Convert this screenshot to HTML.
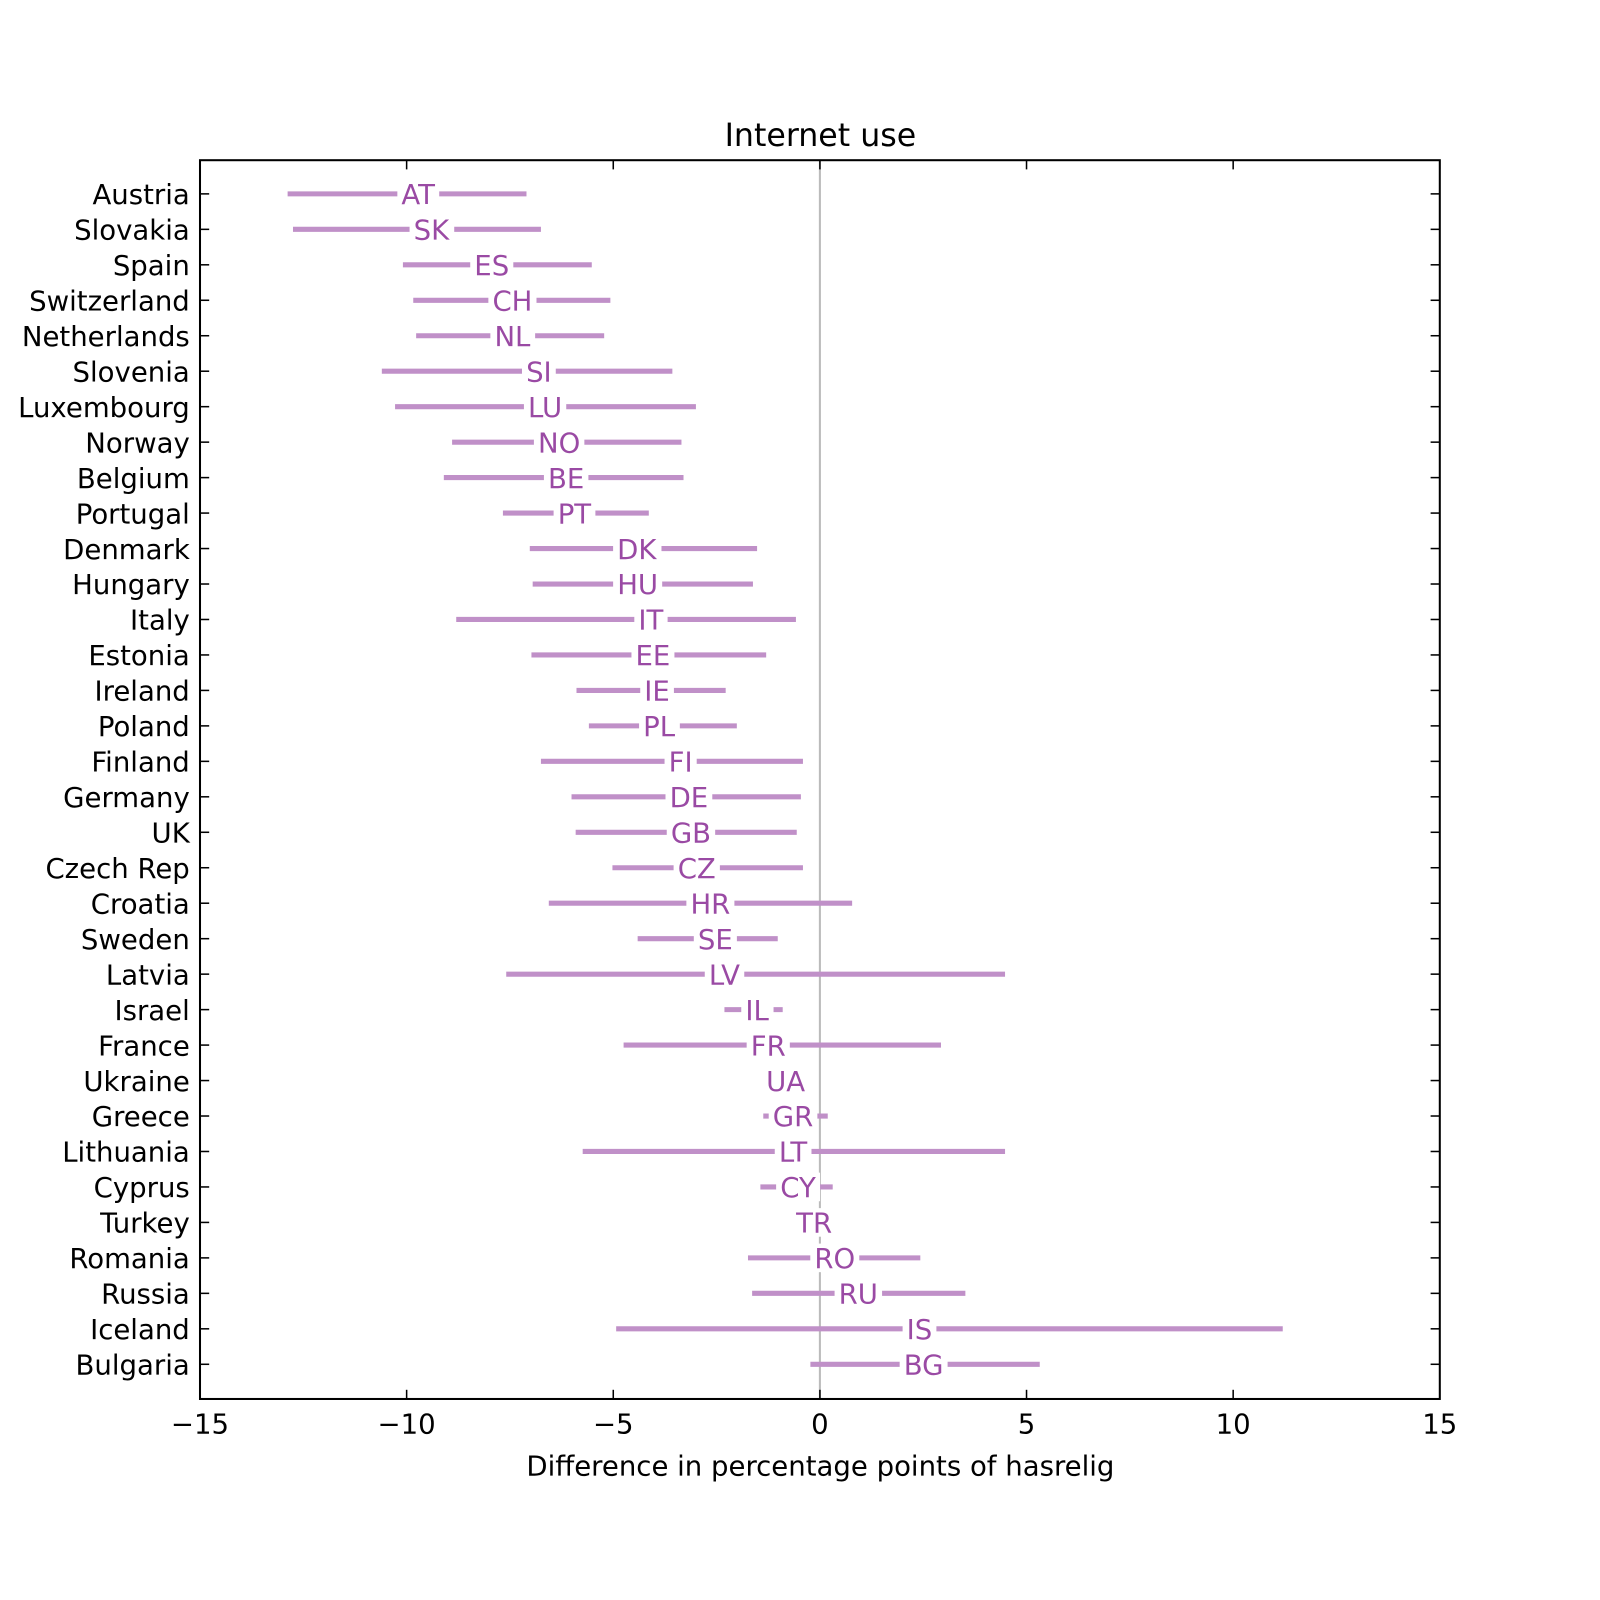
<!DOCTYPE html>
<html><head><meta charset="utf-8"><style>
html,body{margin:0;padding:0;background:#fff;}
svg{display:block;font-family:"DejaVu Sans","Liberation Sans",sans-serif;}
</style></head><body>
<svg id="chart" width="1600" height="1600" viewBox="0 0 1568 1568"></svg>
<script>
const countries=["Austria","Slovakia","Spain","Switzerland","Netherlands","Slovenia","Luxembourg","Norway","Belgium","Portugal","Denmark","Hungary","Italy","Estonia","Ireland","Poland","Finland","Germany","UK","Czech Rep","Croatia","Sweden","Latvia","Israel","France","Ukraine","Greece","Lithuania","Cyprus","Turkey","Romania","Russia","Iceland","Bulgaria"];
const codes=["AT","SK","ES","CH","NL","SI","LU","NO","BE","PT","DK","HU","IT","EE","IE","PL","FI","DE","GB","CZ","HR","SE","LV","IL","FR","UA","GR","LT","CY","TR","RO","RU","IS","BG"];
const lows=[-12.88,-12.75,-10.09,-9.84,-9.77,-10.60,-10.28,-8.90,-9.10,-7.67,-7.02,-6.95,-8.80,-6.98,-5.89,-5.59,-6.75,-6.01,-5.91,-5.02,-6.56,-4.41,-7.59,-2.31,-4.75,-0.83,-1.37,-5.74,-1.44,-0.14,-1.74,-1.64,-4.93,-0.23];
const highs=[-7.10,-6.75,-5.52,-5.07,-5.22,-3.57,-3.00,-3.35,-3.30,-4.14,-1.52,-1.62,-0.58,-1.30,-2.28,-2.01,-0.41,-0.46,-0.56,-0.41,0.78,-1.02,4.48,-0.90,2.93,-0.83,0.19,4.48,0.31,-0.14,2.43,3.52,11.20,5.32];
const mids=[-9.72,-9.40,-7.94,-7.44,-7.44,-6.80,-6.65,-6.31,-6.14,-5.94,-4.43,-4.41,-4.09,-4.04,-3.94,-3.89,-3.37,-3.17,-3.12,-2.98,-2.65,-2.53,-2.31,-1.52,-1.25,-0.83,-0.65,-0.65,-0.53,-0.14,0.36,0.93,2.41,2.51];
const xTicks=[-15,-10,-5,0,5,10,15];
const xTickLabels=["\u221215","\u221210","\u22125","0","5","10","15"];

const L=196,R=1411,T=157,B=1371;
const X=v=>L+(v+15)/30*(R-L);
const Y=i=>190+i*(1337-190)/(countries.length-1);
const NS="http://www.w3.org/2000/svg";
const svg=document.getElementById('chart');
function mk(tag,attrs,parent){const e=document.createElementNS(NS,tag);for(const k in attrs)e.setAttribute(k,attrs[k]);(parent||svg).appendChild(e);return e;}

let t=mk('text',{x:804,y:143,'font-size':31,'text-anchor':'middle',fill:'#000'});t.textContent='Internet use';



let z=mk('line',{x1:X(0),x2:X(0),y1:T,y2:B,stroke:'#bbb','stroke-width':2});



for(let i=0;i<countries.length;i++){
  const y=Y(i);
  const g=mk('g',{});
  
  
  if(highs[i]>lows[i]){
    const ln=mk('line',{x1:X(lows[i]),x2:X(highs[i]),y1:y,y2:y,stroke:'#c090c8','stroke-width':5},g);
    
    
  }
  const bg=mk('rect',{x:X(mids[i])-28,y:y-14,width:56,height:28,fill:'#fff'},g);
  
  
  const lb=mk('text',{x:X(mids[i]),y:y+10,'font-size':27,'text-anchor':'middle',fill:'#9a4aa4'},g);
  lb.textContent=codes[i];
  
  
  const bb=lb.getBBox();
  bg.setAttribute('x',bb.x-4);bg.setAttribute('width',bb.width+8);
  const cl=mk('text',{x:186,y:y+10,'font-size':27,'text-anchor':'end',fill:'#000'});
  cl.textContent=countries[i];
  
  
  mk('line',{x1:L,x2:L+9,y1:y,y2:y,stroke:'#000','stroke-width':1.5});
  mk('line',{x1:R,x2:R-9,y1:y,y2:y,stroke:'#000','stroke-width':1.5});
}
for(let j=0;j<xTicks.length;j++){
  const x=X(xTicks[j]);
  mk('line',{x1:x,x2:x,y1:B,y2:B-9,stroke:'#000','stroke-width':1.5});
  mk('line',{x1:x,x2:x,y1:T,y2:T+9,stroke:'#000','stroke-width':1.5});
  const tl=mk('text',{x:x,y:1405,'font-size':27,'text-anchor':'middle',fill:'#000'});
  tl.textContent=xTickLabels[j];
  
  
}
let fr=mk('rect',{x:L,y:T,width:R-L,height:B-T,fill:'none',stroke:'#000','stroke-width':2});


let xl=mk('text',{x:804,y:1446,'font-size':27,'text-anchor':'middle',fill:'#000'});
xl.textContent='Difference in percentage points of hasrelig';


</script>
</body></html>
